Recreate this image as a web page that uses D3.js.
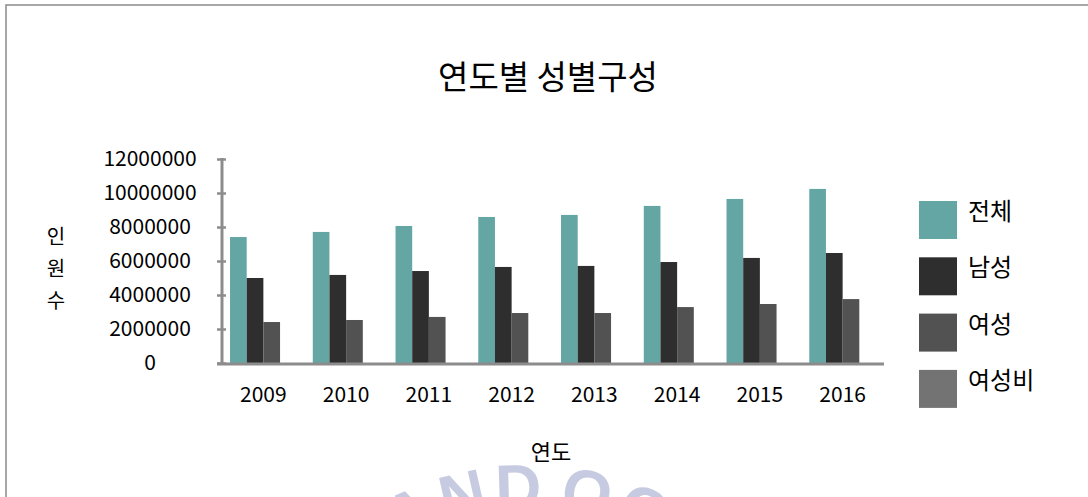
<!DOCTYPE html>
<html>
<head>
<meta charset="utf-8">
<script src="https://cdn.jsdelivr.net/npm/d3@7/dist/d3.min.js"></script>
<style>
  html, body { margin: 0; padding: 0; background: #fff; }
  svg { display: block; font-family: "Noto Sans CJK KR", "Noto Sans", sans-serif; }
</style>
</head>
<body>
<svg id="chart" width="1088" height="497"></svg>
<script>
const years = ["2009", "2010", "2011", "2012", "2013", "2014", "2015", "2016"];
const seriesNames = ["전체", "남성", "여성", "여성비"];
const totalValues = [7410000, 7710000, 8060000, 8590000, 8710000, 9240000, 9650000, 10240000];
const maleValues = [5000000, 5180000, 5410000, 5650000, 5710000, 5940000, 6180000, 6470000];
const femaleValues = [2410000, 2530000, 2710000, 2940000, 2940000, 3290000, 3470000, 3760000];
const femaleRatioValues = [32.5, 32.8, 33.6, 34.2, 33.8, 35.6, 36.0, 36.7];
const yTicks = [0, 2000000, 4000000, 6000000, 8000000, 10000000, 12000000];
const colors = ["#64a6a4", "#2e2e2e", "#525252", "#737373"];

(function () {
const seriesValues = [totalValues, maleValues, femaleValues, femaleRatioValues];
const svg = d3.select("#chart");

// frame
svg.append("path")
  .attr("d", "M6,497 L6,5 L1088,5")
  .attr("fill", "none").attr("stroke", "#8a8a8a").attr("stroke-width", 1.5);

// watermark (faint seal text)
const wm = svg.append("g");
wm.append("path").attr("id", "wmArc")
  .attr("d", "M 265,732 A 269,269 0 0 1 795,732")
  .attr("fill", "none");
const wmFont = "\"Liberation Sans Narrow\", \"Liberation Sans\", sans-serif";
wm.append("text")
  .attr("font-family", wmFont).attr("font-size", 64).attr("font-weight", "bold")
  .attr("letter-spacing", 6).attr("fill", "#c7cbe1")
  .append("textPath").attr("href", "#wmArc").attr("startOffset", 394)
  .attr("text-anchor", "end").text("TIME AND");
wm.append("text")
  .attr("font-family", wmFont).attr("font-size", 64).attr("font-weight", "bold")
  .attr("letter-spacing", 6).attr("fill", "#c7cbe1")
  .append("textPath").attr("href", "#wmArc").attr("startOffset", 404)
  .attr("text-anchor", "start").text("OCEAN U");

const pLeft = 222, pRight = 884, pTop = 159, pBottom = 363;

const x0 = d3.scaleBand().domain(years).range([pLeft, pRight]).paddingInner(0.194).paddingOuter(0.097);
const x1 = d3.scaleBand().domain(seriesNames).range([0, x0.bandwidth()]);
const y = d3.scaleLinear().domain([0, 12000000]).range([pBottom, pTop]);

// title
svg.append("text").attr("x", 548).attr("y", 89).attr("text-anchor", "middle")
  .attr("font-size", 33).attr("fill", "#000").text("연도별 성별구성");

// bars
const groups = svg.append("g").selectAll("g").data(years).join("g")
  .attr("transform", d => `translate(${x0(d)},0)`);
groups.selectAll("rect")
  .data((d, i) => seriesNames.map((s, j) => ({ s, j, v: seriesValues[j][i] })))
  .join("rect")
  .attr("x", d => x1(d.s))
  .attr("width", x1.bandwidth())
  .attr("y", d => y(d.v))
  .attr("height", d => pBottom - y(d.v))
  .attr("fill", d => colors[d.j]);

// y axis
const yAxis = d3.axisLeft(y).tickValues(yTicks).tickSize(0).tickFormat(d3.format("d"));
const yg = svg.append("g").attr("transform", `translate(${pLeft},0)`).call(yAxis);
yg.select(".domain").remove();
yg.selectAll(".tick text")
  .attr("x", 150 - pLeft).attr("text-anchor", "middle")
  .attr("font-size", 21).attr("fill", "#000")
  .attr("font-family", "\"Noto Sans CJK KR\", sans-serif");
yg.selectAll(".tick").append("line")
  .attr("x1", -5).attr("x2", 4).attr("stroke", "#8c8c8c").attr("stroke-width", 2.5);
svg.append("line").attr("x1", pLeft).attr("x2", pLeft).attr("y1", pTop - 1).attr("y2", pBottom + 2)
  .attr("stroke", "#8c8c8c").attr("stroke-width", 3);

// x axis
const xAxis = d3.axisBottom(x0).tickSize(0).tickPadding(0);
const xg = svg.append("g").attr("transform", `translate(0,${pBottom})`).call(xAxis);
xg.select(".domain").remove();
xg.selectAll(".tick text")
  .attr("y", 39).attr("dy", 0)
  .attr("font-size", 21).attr("fill", "#000")
  .attr("font-family", "\"Noto Sans CJK KR\", sans-serif");
svg.append("line").attr("x1", 217).attr("x2", pRight).attr("y1", pBottom + 1).attr("y2", pBottom + 1)
  .attr("stroke", "#8c8c8c").attr("stroke-width", 3);

// axis titles
["인", "원", "수"].forEach((c, i) => {
  svg.append("text").attr("x", 56).attr("y", 244 + i * 32).attr("text-anchor", "middle")
    .attr("font-size", 20).attr("fill", "#000").text(c);
});
svg.append("text").attr("x", 551).attr("y", 460).attr("text-anchor", "middle")
  .attr("font-size", 22).attr("fill", "#000").text("연도");

// legend
const lg = svg.append("g").selectAll("g").data(seriesNames).join("g")
  .attr("transform", (d, i) => `translate(919,${201 + i * 56.3})`);
lg.append("rect").attr("width", 38).attr("height", 38).attr("fill", (d, i) => colors[i]);
lg.append("text").attr("x", 49).attr("y", 19).attr("font-size", 24).attr("fill", "#000").text(d => d);
})();
</script>
</body>
</html>
